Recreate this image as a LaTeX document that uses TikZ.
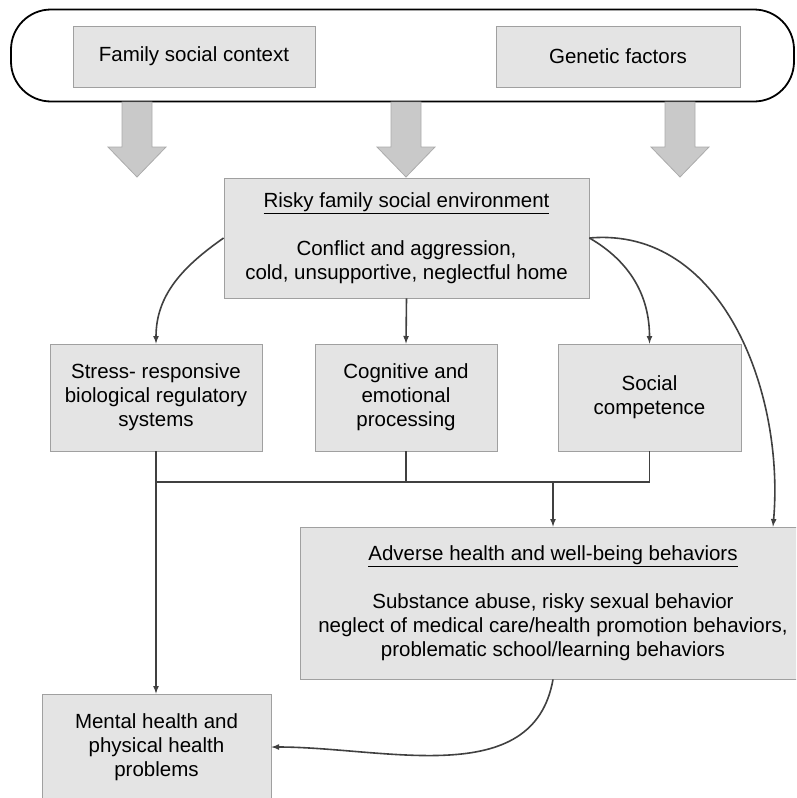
\documentclass[tikz,border=0pt]{standalone}
\usepackage{fontspec}
\setmainfont{Liberation Sans}
\usepackage{tikz}
\usepackage{xcolor}
\usetikzlibrary{arrows.meta}

\definecolor{boxfill}{HTML}{E4E4E4}
\definecolor{boxline}{HTML}{A0A0A0}
\definecolor{arrowfill}{HTML}{C9C9C9}
\definecolor{arrowline}{HTML}{ABABAB}
\definecolor{linkgray}{HTML}{404040}

\begin{document}
\begin{tikzpicture}[x=1pt, y=-1pt,
                box/.style={draw=boxline, fill=boxfill, line width=0.8pt, align=center, inner sep=0pt, font=\fontsize{20.5}{24}\selectfont},
                link/.style={-latex, draw=linkgray, line width=1.6pt},
                bus/.style={draw=linkgray, line width=1.6pt},
                bigarrow/.style={fill=arrowfill, draw=arrowline, line width=0.8pt}]
                \useasboundingbox (0,0) rectangle (796,798);
                \clip (0,0) rectangle (796,798);
                \node[draw, line width=1.8pt, rounded corners=40pt, minimum width=783pt, minimum height=92pt] (ctx) at (402.5,55.5) {};
                \node[box, minimum width=242pt, minimum height=61pt] (fam) at (194,56.5) {Family social context};
                \node[box, minimum width=244pt, minimum height=61pt] (gen) at (618,56.5) {Genetic factors};
                \foreach \c in {137,406,680}
                    \draw[bigarrow] (\c-15,102) -- (\c+15,102) -- (\c+15,147) -- (\c+29,147) -- (\c,177) -- (\c-29,147) -- (\c-15,147) -- cycle;
                \node[box, minimum width=365pt, minimum height=120pt] (risky) at (406.5,238)
                    {\underline{Risky family social environment}\\[24pt]Conflict and aggression,\\cold, unsupportive, neglectful home};
                \node[box, minimum width=212pt, minimum height=107pt] (stress) at (156,397.5)
                    {Stress- responsive\\biological regulatory\\systems};
                \node[box, minimum width=182pt, minimum height=107pt] (cog) at (406,397.5)
                    {Cognitive and\\emotional\\processing};
                \node[box, minimum width=183pt, minimum height=107pt] (soc) at (649.5,397.5)
                    {Social\\competence};
                \node[box, minimum width=506pt, minimum height=152pt] (adverse) at (553,603)
                    {\underline{Adverse health and well-being behaviors}\\[24pt]Substance abuse, risky sexual behavior\\neglect of medical care/health promotion behaviors,\\problematic school/learning behaviors};
                \node[box, minimum width=229pt, minimum height=106pt] (mental) at (156.5,747)
                    {Mental health and\\physical health\\problems};
                \coordinate (junction) at (0,482);
                \draw[link] (risky.west) to[out=215, in=90] (stress.north);
                \draw[link] (risky.south) -- (cog.north);
                \draw[link] (risky.east) to[out=-30, in=90] (soc.north);
                \draw[link] (risky.east) to[out=5, in=85] ([xshift=220pt]adverse.north);
                \draw[link] (stress.south) -- (stress.south |- mental.north);
                \draw[bus] (cog.south) -- (cog.south |- junction);
                \draw[bus] (soc.south) -- (soc.south |- junction) -- (stress.south |- junction);
                \draw[link] (adverse.north |- junction) -- (adverse.north);
                \draw[link] (adverse.south) to[out=-100, in=0] (mental.east);
            \end{tikzpicture}
\end{document}
